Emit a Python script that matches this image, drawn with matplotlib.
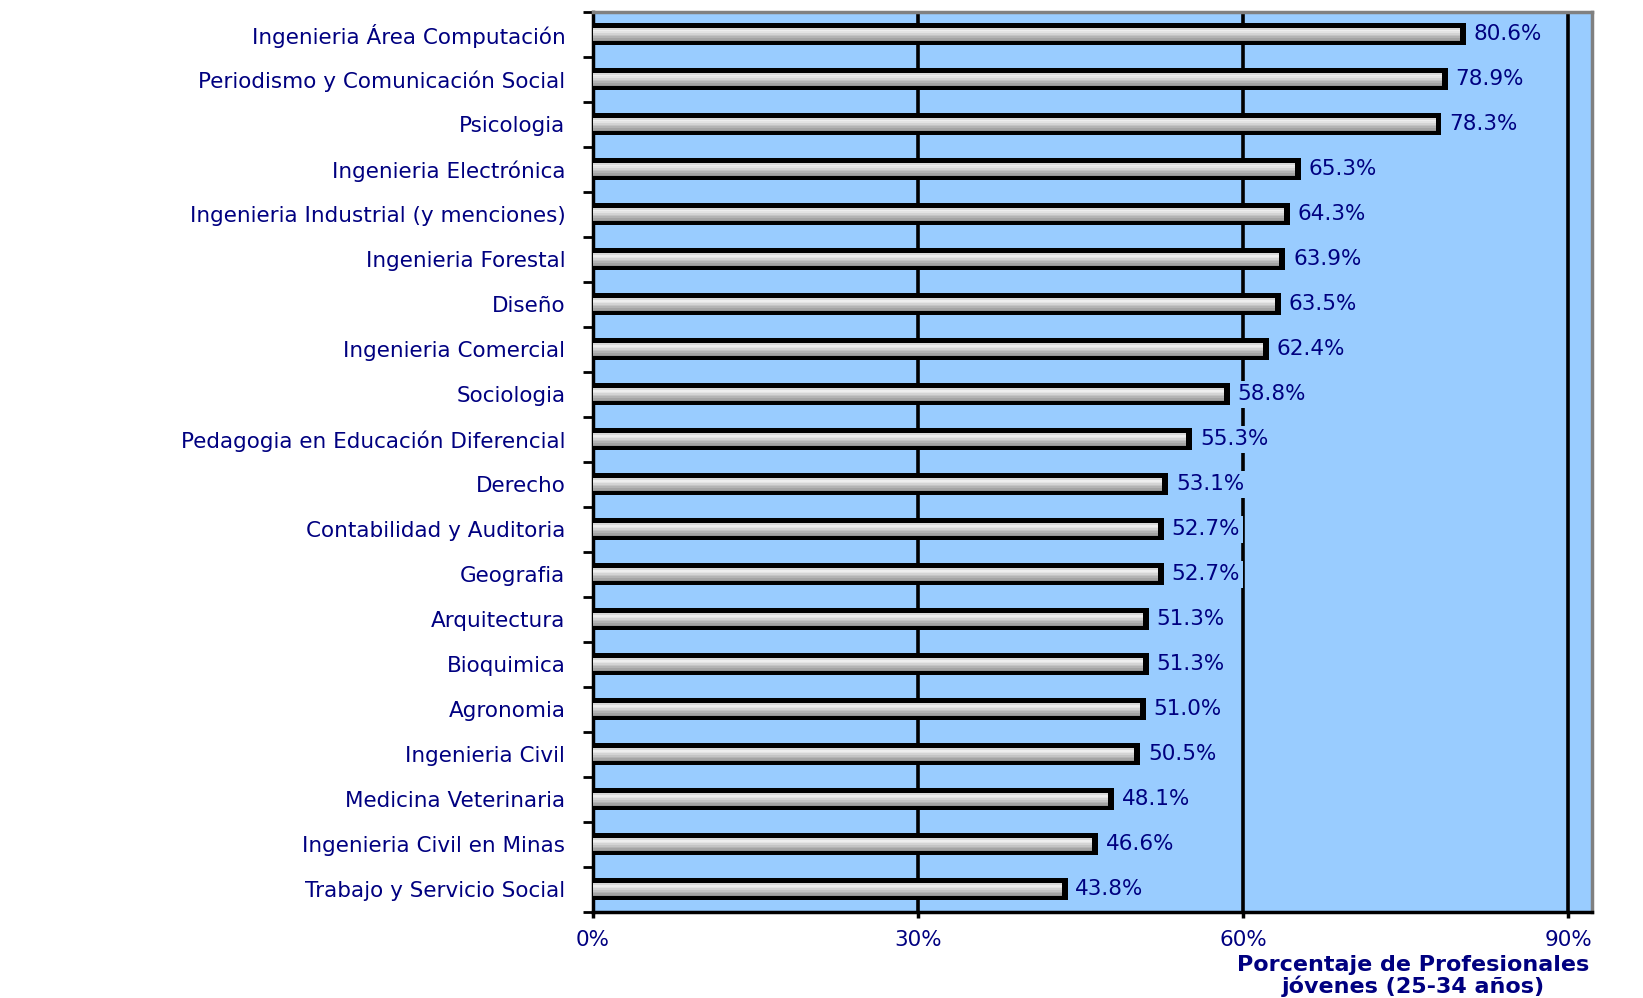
import matplotlib
matplotlib.use('Agg')
import matplotlib.pyplot as plt
import numpy as np

carreras = ['Ingenieria Área Computación',
            'Periodismo y Comunicación Social',
            'Psicologia',
            'Ingenieria Electrónica',
            'Ingenieria Industrial (y menciones)',
            'Ingenieria Forestal',
            'Diseño',
            'Ingenieria Comercial',
            'Sociologia',
            'Pedagogia en Educación Diferencial',
            'Derecho',
            'Contabilidad y Auditoria',
            'Geografia',
            'Arquitectura',
            'Bioquimica',
            'Agronomia',
            'Ingenieria Civil',
            'Medicina Veterinaria',
            'Ingenieria Civil en Minas',
            'Trabajo y Servicio Social']
porcentajes = [80.6, 78.9, 78.3, 65.3, 64.3, 63.9, 63.5, 62.4, 58.8, 55.3,
               53.1, 52.7, 52.7, 51.3, 51.3, 51.0, 50.5, 48.1, 46.6, 43.8]
xticks = [0, 30, 60, 90]
xtick_labels = ['0%', '30%', '60%', '90%']

navy = '#000080'
fondo = '#99ccff'
fs = 15.5

fig = plt.figure(figsize=(16.43, 9.98), dpi=100)
ax = fig.add_axes([0.361, 0.0862, 0.608, 0.902])
ax.set_facecolor(fondo)

y = np.arange(len(carreras))
ax.set_ylim(len(carreras) - 0.5, -0.5)
ax.set_xlim(0, 92.2)

# lineas verticales
for xv in [30, 60, 90]:
    ax.axvline(xv, color='black', lw=2.6, zorder=1)

# barras: borde negro + degradado gris
ax.barh(y, porcentajes, height=0.49, color='black', zorder=2)
grises = ['#d8d8d8', '#eeeeee', '#e4e4e4', '#d4d4d4', '#c4c4c4',
          '#b4b4b4', '#a4a4a4', '#969696']
top = -0.135
h = 0.29 / len(grises)
inner = [p - 0.55 for p in porcentajes]
for k, g in enumerate(grises):
    ax.barh(y + top + h * (k + 0.5), inner, height=h * 1.02, color=g,
            zorder=3, linewidth=0)

for yi, p in zip(y, porcentajes):
    ax.text(p + 0.7, yi, '{:.1f}%'.format(p), va='center', ha='left',
            color=navy, fontsize=fs, zorder=4,
            bbox=dict(boxstyle='square,pad=0.15', fc=fondo, ec='none'))

ax.set_yticks(y)
ax.set_yticklabels(carreras, color=navy, fontsize=fs)
ax.set_yticks(np.arange(len(carreras) + 1) - 0.5, minor=True)
ax.tick_params(axis='y', which='major', length=0, pad=20)
ax.tick_params(axis='y', which='minor', length=7, width=2, color='black')

ax.set_xticks(xticks)
ax.set_xticklabels(xtick_labels, color=navy, fontsize=fs)
ax.tick_params(axis='x', length=4, width=2.5, pad=9)

for s in ['top', 'right']:
    ax.spines[s].set_color('#808080')
    ax.spines[s].set_linewidth(2.5)
for s in ['left', 'bottom']:
    ax.spines[s].set_color('black')
    ax.spines[s].set_linewidth(2.5)

fig.text(0.86, 0.022, 'Porcentaje de Profesionales\njóvenes (25-34 años)',
         ha='center', va='center', color=navy, fontsize=16,
         fontweight='bold', linespacing=1.05)

fig.savefig('out.png', dpi=100, facecolor='white')
